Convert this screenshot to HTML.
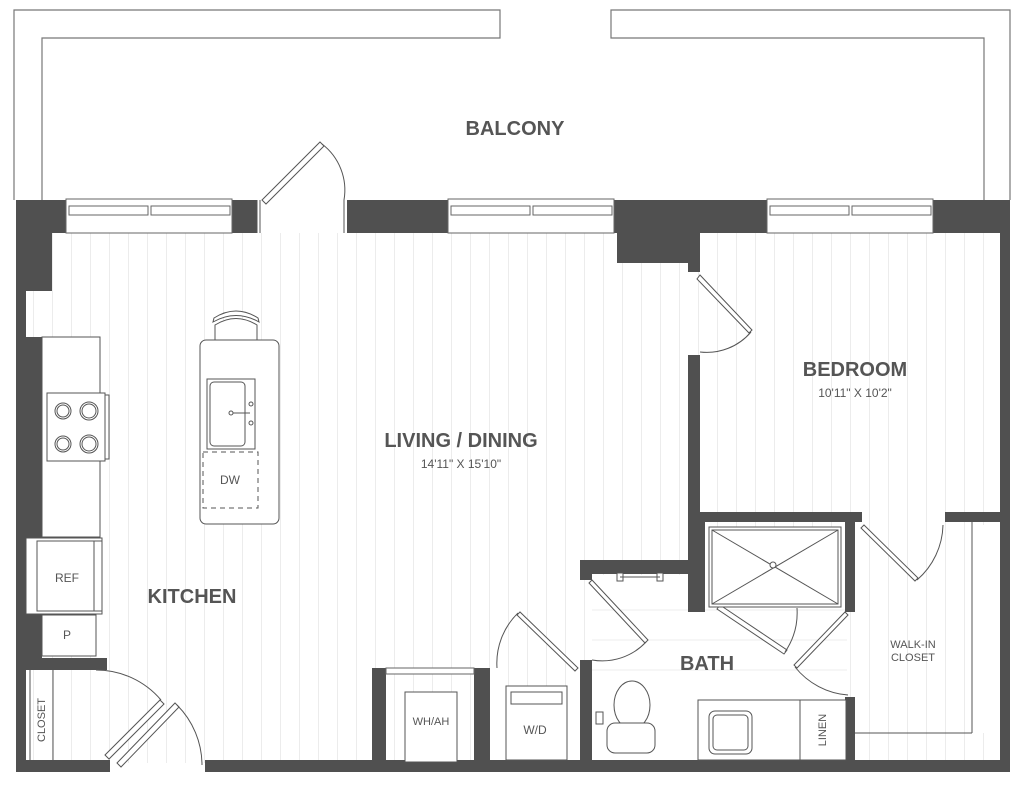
<!DOCTYPE html>
<html><head><meta charset="utf-8"><style>
html,body{margin:0;padding:0;background:#fff}
svg{display:block}
text{font-family:"Liberation Sans",sans-serif;fill:#555}
</style></head><body>
<svg width="1024" height="785" viewBox="0 0 1024 785" xmlns="http://www.w3.org/2000/svg">
<defs>
<pattern id="pl" x="52" y="0" width="19" height="785" patternUnits="userSpaceOnUse">
<line x1="0.5" y1="0" x2="0.5" y2="785" stroke="#ececec" stroke-width="1"/>
</pattern>
</defs>
<g fill="none" stroke="#777" stroke-width="1.2">
<path d="M14 200 V10 H500 V38 H42 V200"/>
<path d="M1010 200 V10 H611 V38 H984 V200"/>
</g>
<text x="515" y="135" font-size="20" font-weight="bold" text-anchor="middle">BALCONY</text>

<rect x="26" y="233" width="974" height="530" fill="url(#pl)"/>
<rect x="855" y="525" width="145" height="208" fill="#fff"/>
<rect x="855" y="525" width="117" height="208" fill="url(#pl)"/>
<rect x="592" y="575" width="255" height="185" fill="#fff"/>
<g stroke="#ececec"><line x1="592" y1="610" x2="847" y2="610"/><line x1="592" y1="640" x2="847" y2="640"/><line x1="592" y1="670" x2="847" y2="670"/></g>

<g fill="#505050">
<rect x="16" y="200" width="50" height="33"/>
<rect x="232" y="200" width="25" height="33"/>
<rect x="347" y="200" width="101" height="33"/>
<rect x="614" y="200" width="153" height="33"/>
<rect x="933" y="200" width="77" height="33"/>
<rect x="16" y="200" width="36" height="91"/>
<rect x="16" y="291" width="10" height="46"/>
<rect x="16" y="337" width="26" height="201"/>
<rect x="16" y="538" width="10" height="76"/>
<rect x="16" y="614" width="26" height="50"/>
<rect x="16" y="658" width="91" height="12"/>
<rect x="16" y="664" width="10" height="108"/>
<rect x="16" y="760" width="94" height="12"/>
<rect x="205" y="760" width="805" height="12"/>
<rect x="1000" y="200" width="10" height="572"/>
<rect x="617" y="200" width="83" height="63"/>
<rect x="688" y="263" width="12" height="9"/>
<rect x="688" y="355" width="12" height="167"/>
<rect x="688" y="512" width="174" height="10"/>
<rect x="945" y="512" width="55" height="10"/>
<rect x="688" y="512" width="17" height="100"/>
<rect x="845" y="512" width="10" height="100"/>
<rect x="845" y="697" width="10" height="75"/>
<rect x="580" y="560" width="110" height="14"/>
<rect x="580" y="560" width="12" height="20"/>
<rect x="580" y="660" width="12" height="112"/>
<rect x="372" y="668" width="14" height="104"/>
<rect x="474" y="668" width="16" height="104"/>
</g>

<g fill="#fff" stroke="#666" stroke-width="1">
<rect x="66" y="199" width="166" height="34"/>
<rect x="448" y="199" width="166" height="34"/>
<rect x="767" y="199" width="166" height="34"/>
<rect x="69" y="206" width="79" height="9"/><rect x="151" y="206" width="79" height="9"/>
<rect x="451" y="206" width="79" height="9"/><rect x="533" y="206" width="79" height="9"/>
<rect x="770" y="206" width="79" height="9"/><rect x="852" y="206" width="79" height="9"/>
<rect x="386" y="668" width="88" height="6"/>
</g>

<g fill="none" stroke="#555" stroke-width="1">
<line x1="257" y1="200" x2="257" y2="233"/><line x1="260" y1="200" x2="260" y2="233"/>
<path d="M262 200 L320 142 L324 146 L266 204Z" fill="#fff"/>
<path d="M322 144 A58 58 0 0 1 344 200 V233"/>
<path d="M700 275 L752 330 L749 333 L697 279Z" fill="#fff"/>
<path d="M751 332 A58 58 0 0 1 700 352"/>
<path d="M96 670 A85 85 0 0 1 161 700"/>
<path d="M105 755 L160 700 L164 704 L109 759Z" fill="#fff"/>
<path d="M117 763 L175 703 L179 707 L121 767Z" fill="#fff"/>
<path d="M177 705 A85 85 0 0 1 202 765"/>
<path d="M592 580 L648 640 L645 643 L589 583Z" fill="#fff"/>
<path d="M646 642 A60 60 0 0 1 592 660"/>
<path d="M578 668 L520 612 L517 615 L575 671Z" fill="#fff"/>
<path d="M518 613 A70 70 0 0 0 497 668"/>
<path d="M720 605 L787 650 L784 654 L717 609Z" fill="#fff"/>
<path d="M785 652 A70 70 0 0 0 797 608"/>
<path d="M848 615 L797 668 L794 665 L845 612Z" fill="#fff"/>
<path d="M795 667 A75 75 0 0 0 848 695"/>
<path d="M864 525 L918 578 L915 581 L861 528Z" fill="#fff"/>
<path d="M917 580 A75 75 0 0 0 943 525"/>
<line x1="972" y1="522" x2="972" y2="733"/><line x1="855" y1="733" x2="972" y2="733"/>
<line x1="30" y1="670" x2="30" y2="760"/><line x1="53" y1="670" x2="53" y2="760"/>
</g>

<g fill="#fff" stroke="#555" stroke-width="1">
<rect x="42" y="337" width="58" height="200"/>
<rect x="47" y="393" width="58" height="68"/><rect x="105" y="395" width="4" height="64"/>
<circle cx="63" cy="411" r="8"/><circle cx="63" cy="411" r="6"/>
<circle cx="89" cy="411" r="9"/><circle cx="89" cy="411" r="7"/>
<circle cx="63" cy="444" r="8"/><circle cx="63" cy="444" r="6"/>
<circle cx="89" cy="444" r="9"/><circle cx="89" cy="444" r="7"/>
<rect x="26" y="538" width="76" height="76"/><rect x="37" y="541" width="57" height="70"/><rect x="94" y="541" width="8" height="70"/>
<rect x="42" y="615" width="54" height="41"/>
<path d="M215 340 V325 Q236 312 257 325 V340"/>
<path d="M214 318 Q236 304 258 318 L259 322 Q236 309 213 322Z"/>
<rect x="200" y="340" width="79" height="184" rx="6"/>
<rect x="207" y="379" width="48" height="70"/><rect x="210" y="382" width="35" height="64" rx="4"/>
<circle cx="251" cy="404" r="2"/><circle cx="251" cy="423" r="2"/><circle cx="231" cy="413" r="2"/><line x1="233" y1="413" x2="250" y2="413"/>
<rect x="203" y="452" width="55" height="56" stroke-dasharray="5,4"/>
</g>
<g fill="#fff" stroke="#555" stroke-width="1">
<rect x="709" y="527" width="132" height="80"/><rect x="712" y="530" width="126" height="74"/>
<line x1="712" y1="530" x2="838" y2="604"/><line x1="838" y1="530" x2="712" y2="604"/>
<circle cx="773" cy="565" r="3"/>
<rect x="617" y="573" width="6" height="8"/><rect x="657" y="573" width="6" height="8"/><line x1="620" y1="577" x2="660" y2="577"/>
<ellipse cx="632" cy="705" rx="18" ry="24"/>
<rect x="607" y="723" width="48" height="30" rx="8"/>
<rect x="596" y="712" width="7" height="12"/>
<rect x="698" y="700" width="148" height="60"/>
<rect x="800" y="700" width="46" height="60"/>
<rect x="709" y="711" width="43" height="43" rx="6"/><rect x="713" y="715" width="35" height="35" rx="4"/>
<rect x="405" y="692" width="52" height="70"/>
<rect x="506" y="686" width="61" height="74"/><rect x="511" y="692" width="51" height="12"/>
</g>

<g text-anchor="middle">
<text x="461" y="447" font-size="20" font-weight="bold">LIVING / DINING</text>
<text x="461" y="468" font-size="12">14'11" X 15'10"</text>
<text x="855" y="376" font-size="20" font-weight="bold">BEDROOM</text>
<text x="855" y="397" font-size="12">10'11" X 10'2"</text>
<text x="192" y="603" font-size="20" font-weight="bold">KITCHEN</text>
<text x="707" y="670" font-size="20" font-weight="bold">BATH</text>
<text x="230" y="484" font-size="12">DW</text>
<text x="67" y="582" font-size="12">REF</text>
<text x="67" y="639" font-size="12">P</text>
<text x="431" y="725" font-size="11">WH/AH</text>
<text x="535" y="734" font-size="12">W/D</text>
<text x="913" y="648" font-size="11">WALK-IN</text>
<text x="913" y="661" font-size="11">CLOSET</text>
<text transform="translate(45,720) rotate(-90)" font-size="11">CLOSET</text>
<text transform="translate(826,730) rotate(-90)" font-size="11">LINEN</text>
</g>
</svg>
</body></html>
